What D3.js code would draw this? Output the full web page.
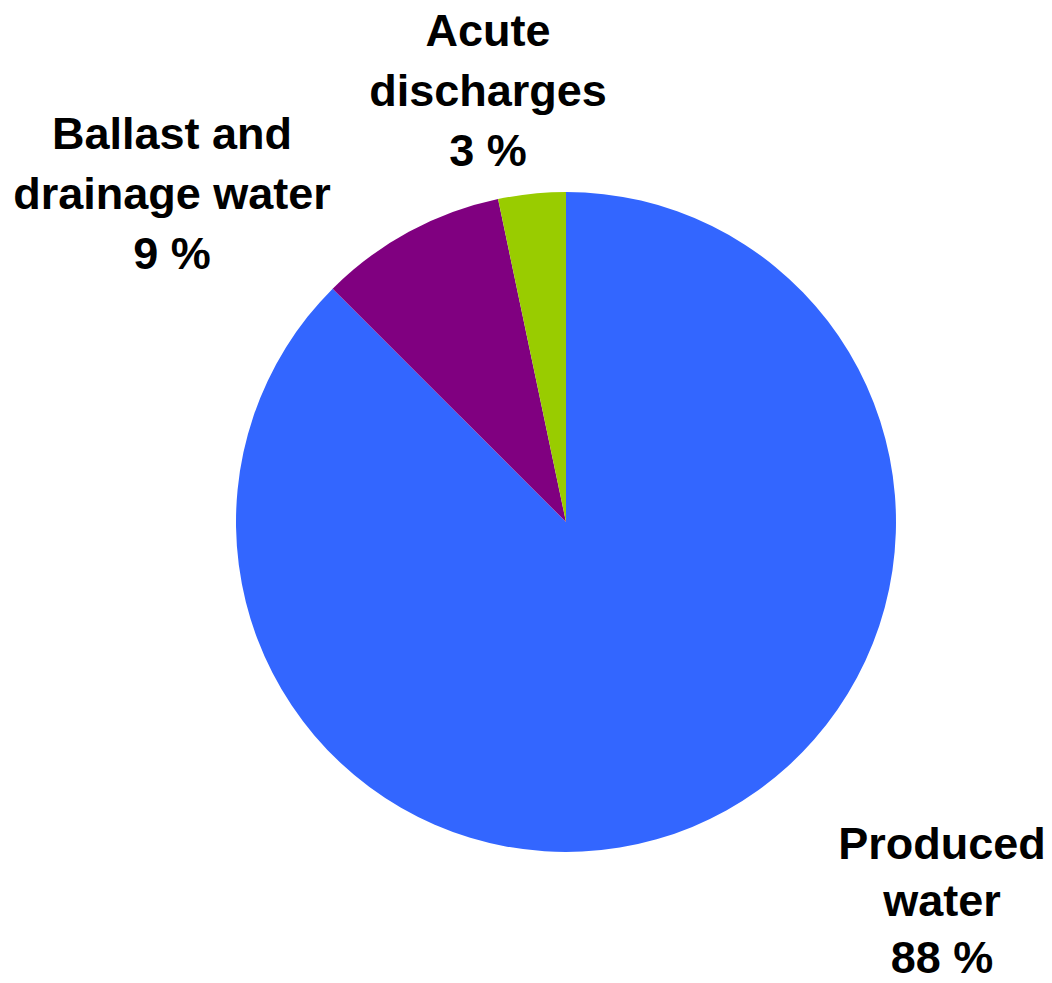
<!DOCTYPE html>
<html>
<head>
<meta charset="utf-8">
<script src="https://cdn.jsdelivr.net/npm/d3@7"></script>
<style>
  html, body { margin: 0; padding: 0; background: #ffffff; }
  svg { display: block; }
</style>
</head>
<body>
<svg id="chart" width="1052" height="983"></svg>
<script>
// Data
const categories = ["Produced water", "Ballast and drainage water", "Acute discharges"];
const values = [87.5, 9.2, 3.3];
const colors = ["#3366FF", "#800080", "#99CC00"];
const labelLines = [["Produced", "water"], ["Ballast and", "drainage water"], ["Acute", "discharges"]];

// Layout (not data)
const width = 1052, height = 983;
const cx = 566, cy = 522, radius = 330;
const labelPos = [[942, 859, 57], [172, 149, 60], [488, 46, 60]]; // x-centre, first baseline, line height

const svg = d3.select("#chart");
const pie = d3.pie().sort(null).value(d => d)(values);
const arc = d3.arc().innerRadius(0).outerRadius(radius);

const g = svg.append("g").attr("transform", `translate(${cx},${cy})`);
g.selectAll("path")
  .data(pie)
  .join("path")
  .attr("d", arc)
  .attr("fill", (d, i) => colors[i]);

const labels = svg.append("g")
  .attr("font-family", "'Liberation Sans', Arial, sans-serif")
  .attr("font-weight", "bold")
  .attr("font-size", 45)
  .attr("fill", "#000")
  .attr("text-anchor", "middle");

categories.forEach((c, i) => {
  const lines = labelLines[i].concat([Math.round(values[i]) + " %"]);
  const [lx, ly, lh] = labelPos[i];
  const t = labels.append("text")
    .attr("x", lx)
    .attr("y", ly);
  lines.forEach((ln, j) => {
    t.append("tspan")
      .attr("x", lx)
      .attr("dy", j === 0 ? 0 : lh)
      .text(ln);
  });
});
</script>
</body>
</html>
